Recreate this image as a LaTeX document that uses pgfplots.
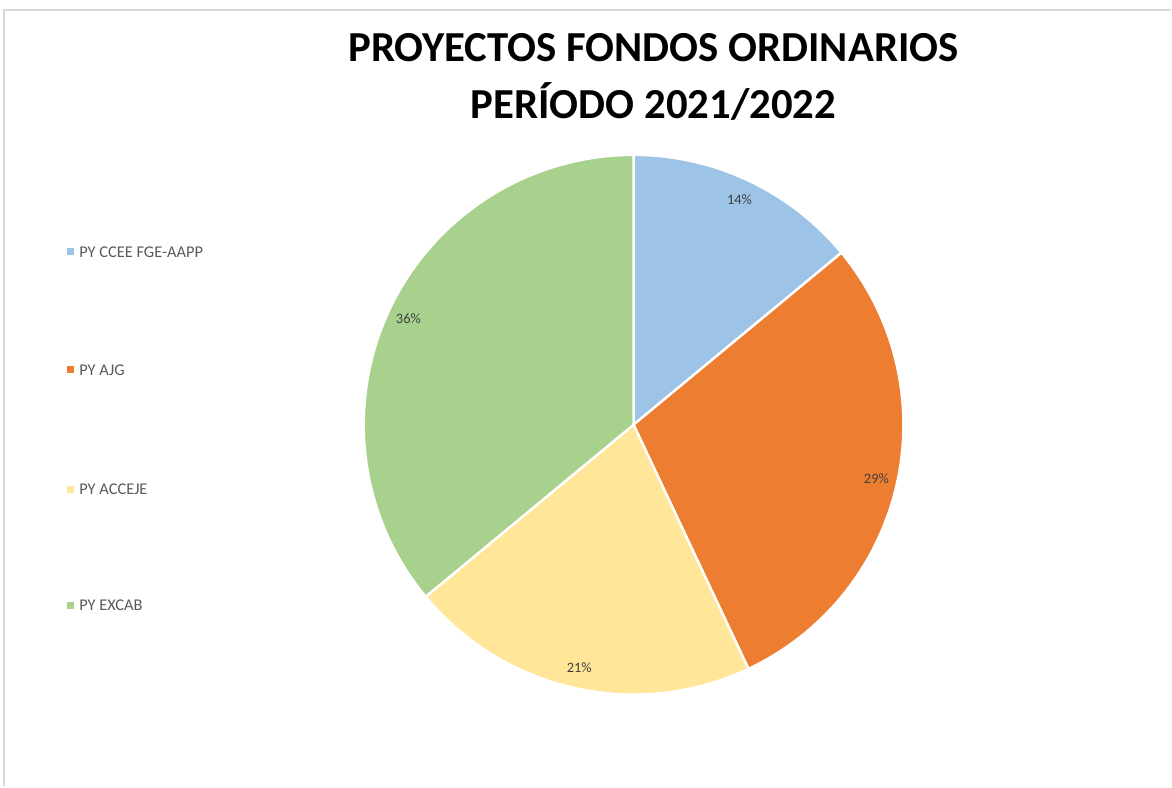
\documentclass[border=0pt]{standalone}
\usepackage{pgfplots}
\pgfplotsset{compat=1.18}
\usepackage{pgfplotstable}
\usetikzlibrary{calc}
\usepackage{fontspec}
\setmainfont{Carlito}

\definecolor{pyblue}{HTML}{9DC3E6}
\definecolor{pyorange}{HTML}{ED7D31}
\definecolor{pyyellow}{HTML}{FFE699}
\definecolor{pygreen}{HTML}{A9D18E}
\definecolor{legtext}{HTML}{595959}
\definecolor{labtext}{HTML}{404040}
\definecolor{frame}{HTML}{D9D9D9}

% share of each project (percent), clockwise from 12 o'clock
\pgfplotstableread{
name value ypos col
{PY CCEE FGE-AAPP} 14 535 pyblue
{PY AJG} 29 417 pyorange
{PY ACCEJE} 21 297 pyyellow
{PY EXCAB} 36 181 pygreen
}\piedata

\begin{document}
\begin{tikzpicture}
\begin{axis}[
  width=586pt, height=393.5pt, scale only axis,
  xmin=0, xmax=1172, ymin=0, ymax=787,
  hide axis, clip=false,
]
\pgfplotsextra{
  \path (axis cs:0,0) rectangle (axis cs:1172,787);
  \draw[frame, line width=0.8pt] (axis cs:4,0) -- (axis cs:4,777) -- (axis cs:1172,777);
  \xdef\cum{0}
  \foreach \i in {0,...,3}{
    \pgfplotstablegetelem{\i}{value}\of\piedata \let\v\pgfplotsretval
    \pgfplotstablegetelem{\i}{col}\of\piedata \let\c\pgfplotsretval
    \pgfplotstablegetelem{\i}{name}\of\piedata \let\n\pgfplotsretval
    \pgfplotstablegetelem{\i}{ypos}\of\piedata \let\yp\pgfplotsretval
    \pgfmathsetmacro\a{90-3.6*\cum}
    \pgfmathsetmacro\b{90-3.6*(\cum+\v)}
    \pgfmathsetmacro\m{(\a+\b)/2}
    \fill[\c, draw=white, line width=1.2pt, line join=round]
      (axis cs:634,362) -- ++(\a:135pt) arc[start angle=\a, end angle=\b, radius=135pt] -- cycle;
    \node[text=labtext, font=\fontsize{7.2}{8}\selectfont] at ($(axis cs:634,362)+(\m:124.5pt)$) {\v\%};
    \fill[\c] (axis cs:67,\yp-3) rectangle (axis cs:74,\yp+4);
    \node[anchor=west, inner sep=0pt, text=legtext, font=\fontsize{8.2}{9}\selectfont] at (axis cs:79,\yp) {\n};
    \pgfmathsetmacro\nc{\cum+\v}
    \xdef\cum{\nc}
  }
  \node[align=center, font=\fontsize{21.4}{29}\selectfont\bfseries] at (axis cs:654,710) {PROYECTOS FONDOS ORDINARIOS\\PERÍODO 2021/2022};
}
\end{axis}
\end{tikzpicture}
\end{document}
